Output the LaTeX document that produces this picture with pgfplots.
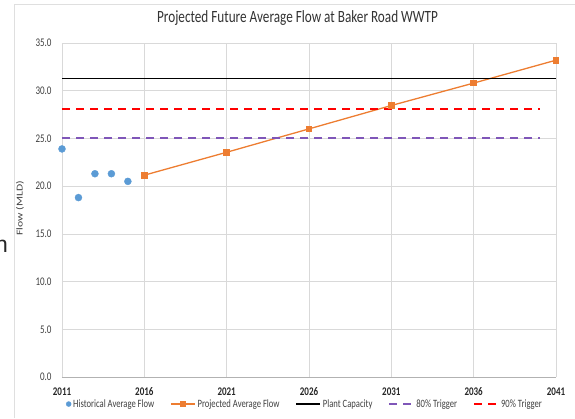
\documentclass[border=0pt]{standalone}
\usepackage{pgfplots}
\pgfplotsset{compat=1.18}
\usepackage{fontspec}
\setmainfont{Carlito}
\newfontfamily\arialfont{Liberation Sans}
\definecolor{histblue}{HTML}{5B9BD5}
\definecolor{projorange}{HTML}{ED7D31}
\definecolor{trigpurple}{HTML}{7F56B8}
\definecolor{trigred}{HTML}{FF0000}
\definecolor{gridgray}{HTML}{D9D9D9}
\definecolor{labgray}{HTML}{404040}
\newcommand{\vs}[1]{\scalebox{1}[1.3]{#1}}
\begin{document}
\begin{tikzpicture}
\path[use as bounding box] (-62pt,-41pt) rectangle (513pt,377pt);
\draw[gray!25, line width=0.8pt] (-48pt,-41pt) -- (-48pt,373pt) -- (513pt,373pt);
\node[anchor=base east, inner sep=0pt, text=black!85, font=\arialfont\fontsize{23}{23}\selectfont] at (-54pt,125pt) {n};
\node[anchor=center, inner sep=0pt, text=black!80, font=\fontsize{13.2}{15}\selectfont] at (235.5pt,359pt) {\vs{Projected Future Average Flow at Baker Road WWTP}};
\begin{axis}[
  at={(0pt,0pt)}, anchor=south west,
  scale only axis, width=494pt, height=334pt,
  xmin=2011, xmax=2041, ymin=0, ymax=35,
  xtick={2011,2016,2021,2026,2031,2036,2041},
  ytick={0,5,10,15,20,25,30,35},
  grid=major, major grid style={gridgray, line width=0.7pt},
  axis line style={gridgray, line width=0.7pt},
  axis x line*=bottom, axis y line*=left,
  x axis line style={draw=gray!60},
  major tick length=0pt,
  /pgf/number format/assume math mode=true,
  xticklabel={\vs{\pgfmathprintnumber[1000 sep={}]{\tick}}},
  xticklabel style={font=\fontsize{9}{10}\selectfont\bfseries, text=black!85, yshift=-7pt},
  yticklabel={\vs{\pgfmathprintnumber[fixed, fixed zerofill, precision=1]{\tick}}},
  yticklabel style={font=\fontsize{9}{10}\selectfont, text=labgray, xshift=-7pt},
  ylabel={\scalebox{1.3}[1]{Flow (MLD)}},
  every axis y label/.style={at={(axis description cs:-0.085,0.505)}, rotate=90, anchor=center, font=\fontsize{9}{10}\selectfont, text=labgray},
  legend columns=5,
  legend style={at={(0.492,-0.081)}, anchor=center, draw=none, fill=none,
    font=\fontsize{8.6}{10}\selectfont, text=labgray,
    /tikz/every even column/.append style={column sep=14pt},
    inner sep=0pt, row sep=0pt},
  legend cell align=left,
  legend image code/.code={\draw[mark repeat=2,mark phase=2] plot coordinates {(0pt,0pt) (12pt,0pt) (24pt,0pt)};},
]
\addplot[only marks, mark=*, mark size=3.5pt, histblue, mark options={draw=histblue, fill=histblue}, legend image post style={mark size=2.5pt}] coordinates {
(2011,23.9) (2012,18.8) (2013,21.3) (2014,21.3) (2015,20.5)};
\addlegendentry{\vs{Historical Average Flow}}
\addplot[projorange, line width=1.3pt, mark=square*, mark size=2.7pt, mark options={fill=projorange, draw=projorange}] coordinates {
(2016,21.15) (2021,23.55) (2026,26.0) (2031,28.45) (2036,30.8) (2041,33.2)};
\addlegendentry{\vs{Projected Average Flow}}
\addplot[black, line width=1.4pt] coordinates {(2011,31.25) (2041,31.25)};
\addlegendentry{\vs{Plant Capacity}}
\addplot[trigpurple, line width=1.9pt, dash pattern=on 8pt off 6pt] coordinates {(2011,25.0) (2040,25.0)};
\addlegendentry{\vs{80\% Trigger}}
\addplot[trigred, line width=1.9pt, dash pattern=on 8pt off 6pt] coordinates {(2011,28.1) (2040,28.1)};
\addlegendentry{\vs{90\% Trigger}}
\end{axis}
\end{tikzpicture}
\end{document}
